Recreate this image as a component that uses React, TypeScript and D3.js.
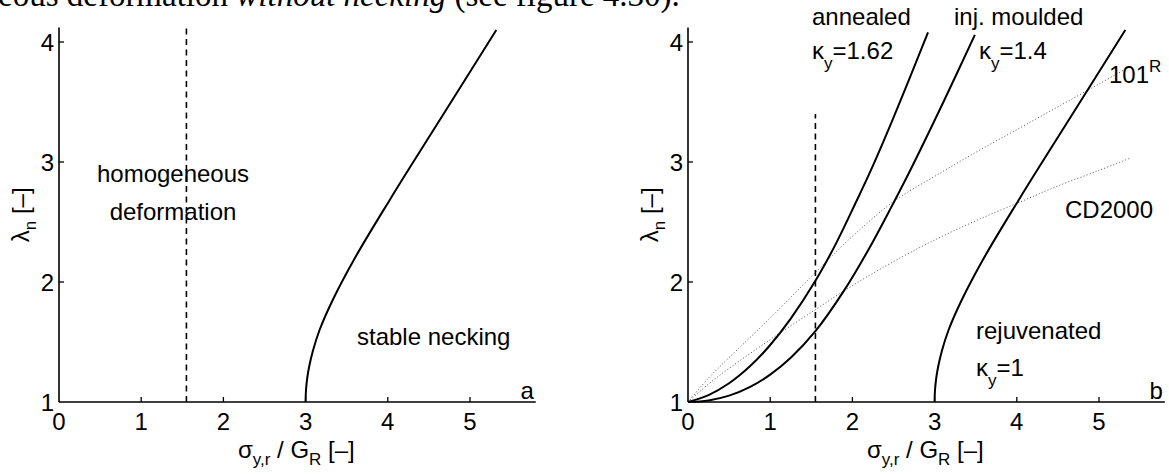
import React from "react";
import * as d3 from "d3";

// axis ticks
const xTicks = [0, 1, 2, 3, 4, 5];
const yTicks = [1, 2, 3, 4];
const xMax = 5.8;
const yMin = 1;
const yMax = 4.12;

// curves as [sigma_y,r / G_R, lambda_n]
const rejuvenated: [number, number][] = [
  [3.0, 1.0], [3.005, 1.1], [3.02, 1.2], [3.045, 1.3], [3.09, 1.43], [3.17, 1.6],
  [3.33, 1.85], [3.6, 2.2], [4.02, 2.68], [4.31, 3.0], [4.77, 3.5], [5.32, 4.1],
];
const annealed: [number, number][] = [
  [0, 1], [0.25, 1.058], [0.5, 1.156], [0.75, 1.295], [1.0, 1.475], [1.25, 1.695],
  [1.55, 2.01], [1.8, 2.32], [2.04, 2.66], [2.25, 2.97], [2.5, 3.37], [2.92, 4.08],
];
const injMoulded: [number, number][] = [
  [0, 1], [0.25, 1.013], [0.5, 1.053], [0.75, 1.124], [1.0, 1.228], [1.25, 1.368],
  [1.55, 1.59], [1.9, 1.93], [2.2, 2.275], [2.47, 2.62], [2.71, 2.94], [3.1, 3.49], [3.49, 4.06],
];
const line101R: [number, number][] = [
  [0, 1], [0.25, 1.2], [0.5, 1.37], [1.0, 1.7], [1.55, 2.08], [2.0, 2.38], [2.52, 2.68],
  [3.0, 2.88], [3.5, 3.08], [4.0, 3.27], [4.5, 3.46], [5.0, 3.65], [5.39, 3.8],
];
const lineCD2000: [number, number][] = [
  [0, 1], [0.25, 1.15], [0.5, 1.28], [1.0, 1.52], [1.55, 1.77], [2.0, 1.97], [2.5, 2.17],
  [3.0, 2.35], [3.5, 2.51], [4.05, 2.67], [4.5, 2.8], [5.0, 2.93], [5.37, 3.03],
];
// vertical dashed line (homogeneous deformation limit)
const dashedX = 1.55;
const dashedTopRight = 3.4;

// layout
const PX_PER_X = 82.2;
const PX_PER_Y = 120;
const AXIS_Y = 402;
const FONT = "'Liberation Sans', Arial, Helvetica, sans-serif";

function makeScales(x0: number) {
  const x = d3.scaleLinear().domain([0, xMax]).range([x0, x0 + xMax * PX_PER_X]);
  const y = d3.scaleLinear().domain([yMin, yMax]).range([AXIS_Y, AXIS_Y - (yMax - yMin) * PX_PER_Y]);
  return { x, y };
}

function Axes({ x, y, letter }: any) {
  const x0 = x(0);
  const cx = (x(0) + x(xMax)) / 2 - 1;
  const cy = (y(yMin) + y(yMax)) / 2;
  return (
    <g fontFamily={FONT} fontSize={24} fill="#000">
      <line x1={x0} x2={x(xMax)} y1={y(yMin)} y2={y(yMin)} stroke="#000" strokeWidth={1.6} />
      <line x1={x0} x2={x0} y1={y(yMin)} y2={y(yMax)} stroke="#000" strokeWidth={1.6} />
      {xTicks.map((t) => (
        <g key={"x" + t}>
          {t > 0 && <line x1={x(t)} x2={x(t)} y1={y(yMin)} y2={y(yMin) - 5} stroke="#000" strokeWidth={1.3} />}
          <text x={x(t)} y={AXIS_Y + 28} textAnchor="middle">{t}</text>
        </g>
      ))}
      {yTicks.map((t) => (
        <g key={"y" + t}>
          {t > 1 && <line x1={x0} x2={x0 + 5} y1={y(t)} y2={y(t)} stroke="#000" strokeWidth={1.3} />}
          <text x={x0 - 5} y={y(t) + 8.5} textAnchor="end">{t}</text>
        </g>
      ))}
      <text x={cx} y={458} textAnchor="middle">
        σ<tspan fontSize={17} dy={7}>y,r</tspan>
        <tspan dy={-7}>{" / G"}</tspan>
        <tspan fontSize={17} dy={7}>R</tspan>
        <tspan dy={-7}>{" [–]"}</tspan>
      </text>
      <text transform={`translate(${x0 - 30},${cy}) rotate(-90)`} textAnchor="middle">
        λ<tspan fontSize={17} dy={7}>n</tspan>
        <tspan dy={-7}>{" [–]"}</tspan>
      </text>
      <text x={x(xMax) - 2} y={AXIS_Y - 3} textAnchor="end">{letter}</text>
    </g>
  );
}

function Kappa({ x, y, value }: any) {
  return (
    <text x={x} y={y}>
      κ<tspan fontSize={17} dy={10}>y</tspan>
      <tspan dy={-10}>{"=" + value}</tspan>
    </text>
  );
}

export default function App() {
  const left = makeScales(59);
  const right = makeScales(688);
  const lineL = d3.line<[number, number]>().x((d) => left.x(d[0])).y((d) => left.y(d[1])).curve(d3.curveCatmullRom.alpha(0.5));
  const lineR = d3.line<[number, number]>().x((d) => right.x(d[0])).y((d) => right.y(d[1])).curve(d3.curveCatmullRom.alpha(0.5));

  return (
    <svg width={1169} height={474} style={{ position: "absolute", left: 0, top: 0, background: "#fff" }}>
      <text x={-2} y={6} fontFamily="'Liberation Serif', 'Times New Roman', serif" fontSize={33} fill="#000">
        eous deformation <tspan fontStyle="italic">without necking</tspan> (see figure 4.30).
      </text>

      {/* panel a */}
      <Axes x={left.x} y={left.y} letter="a" />
      <line x1={left.x(dashedX)} x2={left.x(dashedX)} y1={left.y(yMin)} y2={left.y(yMax)} stroke="#000" strokeWidth={1.6} strokeDasharray="6,4.5" />
      <path d={lineL(rejuvenated) || ""} fill="none" stroke="#000" strokeWidth={2} />
      <g fontFamily={FONT} fontSize={24} fill="#000">
        <text x={173} y={182} textAnchor="middle">homogeneous</text>
        <text x={173} y={220} textAnchor="middle">deformation</text>
        <text x={357} y={345}>stable necking</text>
      </g>

      {/* panel b */}
      <Axes x={right.x} y={right.y} letter="b" />
      <path d={lineR(line101R) || ""} fill="none" stroke="#555" strokeWidth={1} strokeDasharray="1,2.2" />
      <path d={lineR(lineCD2000) || ""} fill="none" stroke="#555" strokeWidth={1} strokeDasharray="1,2.2" />
      <line x1={right.x(dashedX)} x2={right.x(dashedX)} y1={right.y(yMin)} y2={right.y(dashedTopRight)} stroke="#000" strokeWidth={1.6} strokeDasharray="6,4.5" />
      <path d={lineR(annealed) || ""} fill="none" stroke="#000" strokeWidth={2} />
      <path d={lineR(injMoulded) || ""} fill="none" stroke="#000" strokeWidth={2} />
      <path d={lineR(rejuvenated) || ""} fill="none" stroke="#000" strokeWidth={2} />
      <g fontFamily={FONT} fontSize={24} fill="#000">
        <text x={812} y={25}>annealed</text>
        <Kappa x={812} y={59} value="1.62" />
        <text x={954} y={25}>inj. moulded</text>
        <Kappa x={979} y={59} value="1.4" />
        <text x={1109} y={83}>
          101<tspan fontSize={17} dy={-11}>R</tspan>
        </text>
        <text x={1065} y={218}>CD2000</text>
        <text x={976} y={339}>rejuvenated</text>
        <Kappa x={976} y={376} value="1" />
      </g>
    </svg>
  );
}
